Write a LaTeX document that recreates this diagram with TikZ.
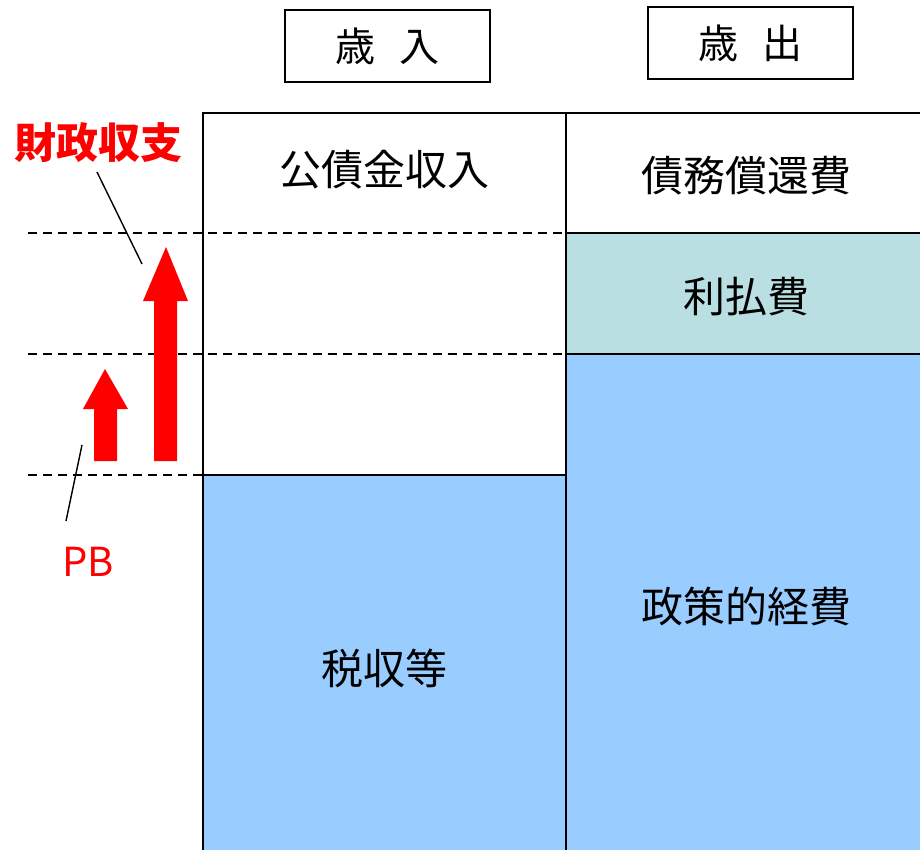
\documentclass[tikz,border=0pt]{standalone}
\usepackage{fontspec}
\newfontfamily\jp{Noto Sans CJK JP}
\usepackage{tikz}
\definecolor{taxblue}{HTML}{99CCFF}
\definecolor{intteal}{HTML}{B9DFE2}
\definecolor{pbred}{HTML}{FF0000}

\begin{document}
\begin{tikzpicture}[x=0.5pt,y=-0.5pt,
	lbl/.style={font=\jp\fontsize{21pt}{21pt}\selectfont},
	hdr/.style={draw=black,line width=0.8pt,minimum width=102.5pt,minimum height=36pt,font=\jp\fontsize{20pt}{20pt}\selectfont},
	guide/.style={dashed,line width=0.9pt,dash pattern=on 4.5pt off 3pt}]
	
	\useasboundingbox (0,0) rectangle (920,850);
	
	% blocks
	\fill[taxblue] (203,475) rectangle (566,850);
	\fill[intteal] (566,233) rectangle (920,354);
	\fill[taxblue] (566,354) rectangle (920,850);
	
	\draw[guide] (28,233) -- (566,233);
	\draw[guide] (28,354) -- (566,354);
	\draw[guide] (28,475) -- (203,475);
	
	\draw[line width=1pt] (203,850) -- (203,113) -- (920,113);
	\draw[line width=1pt] (566,113) -- (566,850);
	\draw[line width=1pt] (203,475) -- (566,475);
	\draw[line width=1pt] (566,233) -- (920,233);
	\draw[line width=1pt] (566,354) -- (920,354);
	
	\node[hdr] (rev) at (387.5, 46)  {歳\hspace{0.6em}入};
	\node[hdr] (exp) at (750.5, 43)  {歳\hspace{0.6em}出};
	
	\node[lbl] (bond) at (384, 170) {公債金収入};
	\node[lbl] (tax)  at (384, 668) {税収等};
	\node[lbl] (debt) at (746, 176) {債務償還費};
	\node[lbl] (int)  at (746, 297) {利払費};
	\node[lbl] (pol)  at (746, 607) {政策的経費};
	
	% arrows
	\fill[pbred] (154,461) -- (154,301) -- (143,301) -- (166,247) -- (188,301) -- (177,301) -- (177,461) -- cycle;
	\fill[pbred] (94,461) -- (94,409) -- (83,409) -- (105,369) -- (128,409) -- (117,409) -- (117,461) -- cycle;
	
	\node[text=pbred,font=\jp\bfseries\fontsize{21pt}{21pt}\selectfont] (bal) at (98, 143) {財政収支};
	\node[text=pbred,font=\jp\fontsize{20pt}{20pt}\selectfont] (pb) at (88, 562) {PB};
	
	\coordinate (balA) at (97, 172);
	\coordinate (balB) at (142, 264);
	\coordinate (pbA) at (66, 521);
	\coordinate (pbB) at (82, 445);
	\path[-, line width=0.7pt] (balA) edge (balB);
	\path[-, line width=0.7pt] (pbA) edge (pbB);
	
\end{tikzpicture}
\end{document}
